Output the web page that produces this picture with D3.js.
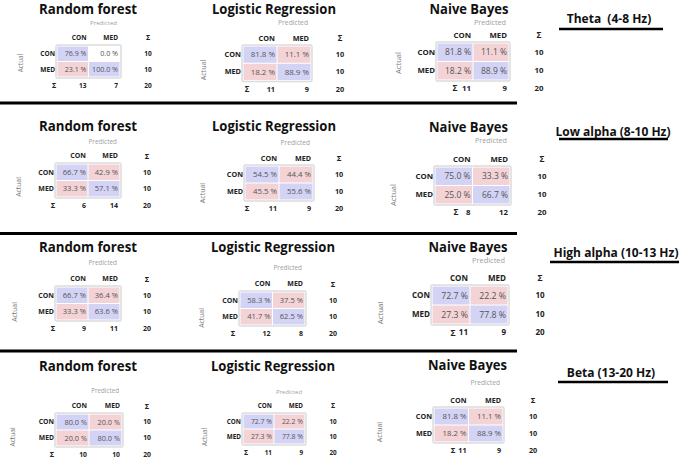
<!DOCTYPE html>
<html><head><meta charset="utf-8">
<script src="https://cdn.jsdelivr.net/npm/d3@7"></script>
<style>body{margin:0;background:#fff}svg{display:block}</style>
</head><body>
<svg id="c" width="685" height="461"></svg>
<script>
// ---- data ----
const models = ["Random forest", "Logistic Regression", "Naive Bayes"];
const bands = ["Theta  (4-8 Hz)", "Low alpha (8-10 Hz)", "High alpha (10-13 Hz)", "Beta (13-20 Hz)"];
const classes = ["CON", "MED"];
// percentages [band][model][actual][predicted]
const thetaPct = [[[76.9, 0.0], [23.1, 100.0]], [[81.8, 11.1], [18.2, 88.9]], [[81.8, 11.1], [18.2, 88.9]]];
const lowAlphaPct = [[[66.7, 42.9], [33.3, 57.1]], [[54.5, 44.4], [45.5, 55.6]], [[75.0, 33.3], [25.0, 66.7]]];
const highAlphaPct = [[[66.7, 36.4], [33.3, 63.6]], [[58.3, 37.5], [41.7, 62.5]], [[72.7, 22.2], [27.3, 77.8]]];
const betaPct = [[[80.0, 20.0], [20.0, 80.0]], [[72.7, 22.2], [27.3, 77.8]], [[81.8, 11.1], [18.2, 88.9]]];
const pct = [thetaPct, lowAlphaPct, highAlphaPct, betaPct];
// row sums (actual) and column sums (predicted)
const rowSums = [10, 10];
const colSums = [
  [[13, 7], [11, 9], [11, 9]],
  [[6, 14], [11, 9], [8, 12]],
  [[9, 11], [12, 8], [11, 9]],
  [[10, 10], [11, 9], [11, 9]]
];
const total = 20;

// ---- layout (panel frames, as in the collage) ----
const frames = [
  [ {x0:57,y0:46,x1:120,y1:77,tx:88,ty:13.5,py:23,ax:21,ay:63,sx:148,qx:54},
    {x0:243,y0:46,x1:311,y1:80.5,tx:274,ty:13.5,py:23,ax:203,ay:70,sx:340,qx:247},
    {x0:437,y0:43,x1:509,y1:80,tx:469,ty:13.5,py:22.5,ax:398,ay:63,sx:539,qx:455} ],
  [ {x0:56,y0:164,x1:120,y1:197,tx:88,ty:131,py:142,ax:19,ay:187,sx:147,qx:53},
    {x0:245,y0:166,x1:313,y1:200,tx:274,ty:131,py:143,ax:203,ay:193,sx:339,qx:247},
    {x0:435,y0:167,x1:510,y1:204,tx:468.5,ty:132,py:140,ax:393,ay:195,sx:542,qx:456} ],
  [ {x0:56,y0:287,x1:120,y1:320,tx:88,ty:252,py:263,ax:15,ay:312,sx:147,qx:53},
    {x0:240,y0:292,x1:305,y1:325,tx:273,ty:252,py:268,ax:202,ay:318,sx:333,qx:233},
    {x0:432,y0:286,x1:508,y1:324,tx:468,ty:251.5,py:260,ax:380,ay:313,sx:540,qx:453} ],
  [ {x0:56,y0:414,x1:122,y1:446,tx:88,ty:371,py:391,ax:13,ay:437,sx:147,qx:52},
    {x0:243,y0:414,x1:305,y1:444,tx:273,ty:371,py:392,ax:205,ay:437,sx:333,qx:246},
    {x0:434,y0:408,x1:503,y1:442,tx:467.5,ty:370,py:383,ax:380,ay:432,sx:533,qx:453} ]
];
const titleWidths = [98, 124, 79];
const separators = [103, 233.5, 351];
const bandLabels = [
  {cx:609, y:19, ly:29, lx0:559, lx1:663},
  {cx:613, y:132, ly:139, lx0:559, lx1:668},
  {cx:616, y:253, ly:262, lx0:550, lx1:679},
  {cx:611, y:373, ly:382, lx0:558, lx1:668}
];

const FONT = "'Open Sans', 'Noto Sans', sans-serif";
const svg = d3.select("#c").style("font-family", FONT);

// separators
svg.selectAll("line.sep").data(separators).join("line")
  .attr("x1", 0).attr("x2", 517).attr("y1", d => d).attr("y2", d => d)
  .attr("stroke", "#000").attr("stroke-width", 3);

// band labels
bands.forEach((b, i) => {
  const L = bandLabels[i];
  svg.append("text").attr("x", L.cx).attr("y", L.y).attr("dy", "0.35em")
    .attr("text-anchor", "middle").attr("font-weight", 700).attr("font-size", 12)
    .attr("fill", "#111").style("white-space", "pre").text(b);
  svg.append("line").attr("x1", L.lx0).attr("x2", L.lx1).attr("y1", L.ly).attr("y2", L.ly)
    .attr("stroke", "#000").attr("stroke-width", 2.5);
});

const blue = "#d3d3f5", pink = "#f3d3d5";

bands.forEach((band, bi) => {
  models.forEach((model, mi) => {
    const f = frames[bi][mi];
    const m = pct[bi][mi];
    const x = d3.scaleBand().domain(classes).range([f.x0, f.x1]);
    const y = d3.scaleBand().domain(classes).range([f.y0, f.y1]);
    const h = y.bandwidth();
    const fs = h * 0.46;
    const g = svg.append("g");

    // title
    g.append("text").attr("x", f.tx).attr("y", f.ty).attr("text-anchor", "middle")
      .attr("font-weight", 700).attr("font-size", 14.5).attr("fill", "#111")
      .attr("textLength", titleWidths[mi]).attr("lengthAdjust", "spacingAndGlyphs")
      .text(model);
    // Predicted
    g.append("text").attr("x", f.x1 - 3).attr("y", f.py).attr("dy", "0.35em")
      .attr("text-anchor", "end").attr("font-size", fs * 0.85).attr("fill", "#a0a0a0")
      .text("Predicted");
    // Actual
    g.append("text").attr("transform", `translate(${f.ax},${f.ay}) rotate(-90)`)
      .attr("dy", "0.35em").attr("text-anchor", "middle")
      .attr("font-size", fs * 0.9).attr("fill", "#777").text("Actual");

    // matrix frame
    g.append("rect").attr("x", f.x0 - 1).attr("y", f.y0 - 1)
      .attr("width", f.x1 - f.x0 + 2).attr("height", f.y1 - f.y0 + 2)
      .attr("rx", 1.5).attr("fill", "#fff").attr("stroke", "#dcdcdc").attr("stroke-width", 1.5);

    const cells = [];
    classes.forEach((a, ai) => classes.forEach((p, pi) => cells.push({a, p, ai, pi, v: m[ai][pi]})));
    g.selectAll("rect.cell").data(cells).join("rect")
      .attr("x", d => x(d.p) + 0.5).attr("y", d => y(d.a) + 0.5)
      .attr("width", x.bandwidth() - 1).attr("height", h - 1)
      .attr("fill", d => d.v === 0 ? "#fff" : (d.ai === d.pi ? blue : pink));
    g.selectAll("text.val").data(cells).join("text")
      .attr("x", d => x(d.p) + x.bandwidth() - 2).attr("y", d => y(d.a) + h / 2)
      .attr("dy", "0.35em").attr("text-anchor", "end").attr("font-size", fs)
      .attr("fill", "#555").text(d => d.v.toFixed(1) + " %");

    // column headers
    g.selectAll("text.ch").data(classes).join("text")
      .attr("x", d => x(d) + x.bandwidth() - 2).attr("y", f.y0 - 8).attr("dy", "0.35em")
      .attr("text-anchor", "end").attr("font-size", fs * 0.92).attr("font-weight", 700)
      .attr("fill", "#222").text(d => d);
    g.append("text").attr("x", f.sx).attr("y", f.y0 - 8).attr("dy", "0.35em")
      .attr("text-anchor", "middle").attr("font-size", fs).attr("font-weight", 700)
      .attr("fill", "#222").text("Σ");
    // row headers
    g.selectAll("text.rh").data(classes).join("text")
      .attr("x", f.x0 - 2).attr("y", d => y(d) + h / 2).attr("dy", "0.35em")
      .attr("text-anchor", "end").attr("font-size", fs * 0.92).attr("font-weight", 700)
      .attr("fill", "#222").text(d => d);
    // row sums
    g.selectAll("text.rs").data(classes).join("text")
      .attr("x", f.sx).attr("y", (d) => y(d) + h / 2).attr("dy", "0.35em")
      .attr("text-anchor", "middle").attr("font-size", fs * 0.92).attr("font-weight", 700)
      .attr("fill", "#222").text((d, i) => rowSums[i]);
    // column sums
    const sy = f.y1 + 8.5;
    g.append("text").attr("x", f.qx).attr("y", sy).attr("dy", "0.35em")
      .attr("text-anchor", "middle").attr("font-size", fs).attr("font-weight", 700)
      .attr("fill", "#222").text("Σ");
    g.selectAll("text.cs").data(classes).join("text")
      .attr("x", d => x(d) + x.bandwidth() - 2).attr("y", sy).attr("dy", "0.35em")
      .attr("text-anchor", "end").attr("font-size", fs * 0.92).attr("font-weight", 700)
      .attr("fill", "#222").text((d, i) => colSums[bi][mi][i]);
    g.append("text").attr("x", f.sx).attr("y", sy).attr("dy", "0.35em")
      .attr("text-anchor", "middle").attr("font-size", fs * 0.92).attr("font-weight", 700)
      .attr("fill", "#222").text(total);
  });
});
</script>
</body></html>
